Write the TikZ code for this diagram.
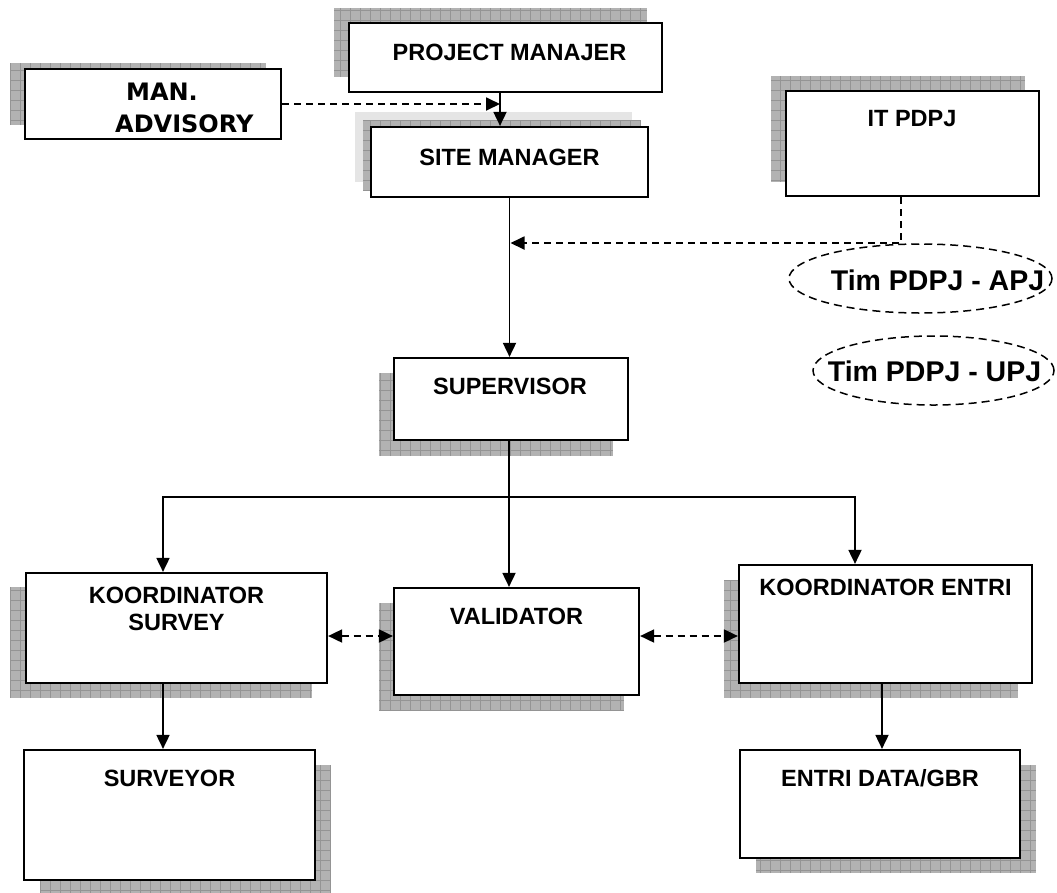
\documentclass[tikz,border=0pt]{standalone}
\usepackage{fontspec}
\setmainfont{Liberation Sans}
\newfontfamily\verdanafont{DejaVu Sans}
\usetikzlibrary{arrows.meta,shapes.geometric}

\tikzset{
  box/.style={draw=black, line width=2.2pt, fill=white, inner sep=0pt},
  boxtext/.style={anchor=base, inner sep=0pt, font=\fontsize{23.5}{27}\selectfont\bfseries},
  timtext/.style={anchor=base, inner sep=0pt, font=\fontsize{28.5}{32}\selectfont\bfseries},
  tim/.style={draw, ellipse, line width=1.5pt, dash pattern=on 8pt off 5pt, inner sep=0pt},
  shadowfill/.style={fill=black!30},
  shadowgrid/.style={draw=black!42, line width=0.6pt, step=10pt},
  arr/.style={line width=1.8pt, -{Triangle[length=14pt,width=13pt]}},
  biarr/.style={line width=1.8pt, {Triangle[length=14pt,width=13pt]}-{Triangle[length=14pt,width=13pt]}},
  dsh/.style={dash pattern=on 7pt off 5pt}
}

\begin{document}
\begin{tikzpicture}[x=1pt,y=-1pt]
\useasboundingbox[fill=white] (0,0) rectangle (1057,892);

% shadows
\fill[black!10] (355,112) rectangle (632,182);
\foreach \xa/\ya/\xb/\yb in {334/8/647/77, 10/63/266/125, 363/120/640/190,
    771/76/1025/182, 379/373/613/456, 10/587/312/698, 379/603/624/711,
    724/580/1018/698, 40/765/330/900, 756/765/1036/873}{
  \fill[shadowfill] (\xa,\ya) rectangle (\xb,\yb);
  \draw[shadowgrid] (\xa,\ya) grid (\xb,\yb);
}

% boxes
\node[box, minimum width=313, minimum height=69] (pm) at (505.5,57.5) {};
\node[box, minimum width=256, minimum height=70] (ma) at (153,104) {};
\node[box, minimum width=277, minimum height=70] (sm) at (509.5,162) {};
\node[box, minimum width=253, minimum height=105] (it) at (912.5,143.5) {};
\node[box, minimum width=234, minimum height=82] (sup) at (511,399) {};
\node[box, minimum width=301, minimum height=110] (ks) at (176.5,628) {};
\node[box, minimum width=245, minimum height=107] (val) at (516.5,641.5) {};
\node[box, minimum width=293, minimum height=118] (ke) at (885.5,624) {};
\node[box, minimum width=291, minimum height=130] (sur) at (169.5,815) {};
\node[box, minimum width=280, minimum height=108] (ed) at (880,804) {};

% dashed ellipses
\node[tim, minimum width=263, minimum height=69] (apj) at (920.5,278.5) {};
\node[tim, minimum width=241, minimum height=69] (upj) at (933.5,370.5) {};

% texts
\node[boxtext] (pmt) at (509.5,60) {PROJECT MANAJER};
\node[boxtext, anchor=base west, font=\fontsize{24}{28}\verdanafont\bfseries] (mat1) at (126,100) {MAN.};
\node[boxtext, anchor=base west, font=\fontsize{24}{28}\verdanafont\bfseries] (mat2) at (115,132) {ADVISORY};
\node[boxtext] (smt) at (509.5,165) {SITE MANAGER};
\node[boxtext] (itt) at (912,126) {IT PDPJ};
\node[timtext] (apjt) at (937.5,290) {Tim PDPJ - APJ};
\node[timtext] (upjt) at (934.5,381) {Tim PDPJ - UPJ};
\node[boxtext] (supt) at (510,394) {SUPERVISOR};
\node[boxtext, anchor=north, align=center] (kst) at (176.5,586.5) {KOORDINATOR\\SURVEY};
\node[boxtext] (valt) at (516.5,624) {VALIDATOR};
\node[boxtext] (ket) at (885.5,595) {KOORDINATOR ENTRI};
\node[boxtext] (surt) at (169.5,786) {SURVEYOR};
\node[boxtext] (edt) at (880,786) {ENTRI DATA/GBR};

% connectors
\coordinate (pmx) at (500,0);
\coordinate (itturn) at (901,243);
\coordinate (fork) at (509,497);
\coordinate (ksx) at (163,0);
\coordinate (kex) at (855,0);
\coordinate (edx) at (882,0);
\coordinate (link) at (0,636);

\draw[arr] (pm.south -| pmx) -- (sm.north -| pmx);
\draw[arr,dsh] (ma.east) -- (ma.east -| pmx);
\draw[arr,dsh,shorten >=1pt] (it.south -| itturn) |- (sm.south |- itturn);
\draw[arr] (sm.south) -- (sm.south |- sup.north);

\draw[arr] (sup.south -| fork) -- (val.north -| fork);
\draw[arr] (fork) -| (ks.north -| ksx);
\draw[arr] (fork) -| (ke.north -| kex);
\draw[arr] (ks.south -| ksx) -- (sur.north -| ksx);
\draw[arr] (ke.south -| edx) -- (ed.north -| edx);

\draw[biarr,dsh] (ks.east |- link) -- (val.west |- link);
\draw[biarr,dsh] (val.east |- link) -- (ke.west |- link);
\end{tikzpicture}
\end{document}
